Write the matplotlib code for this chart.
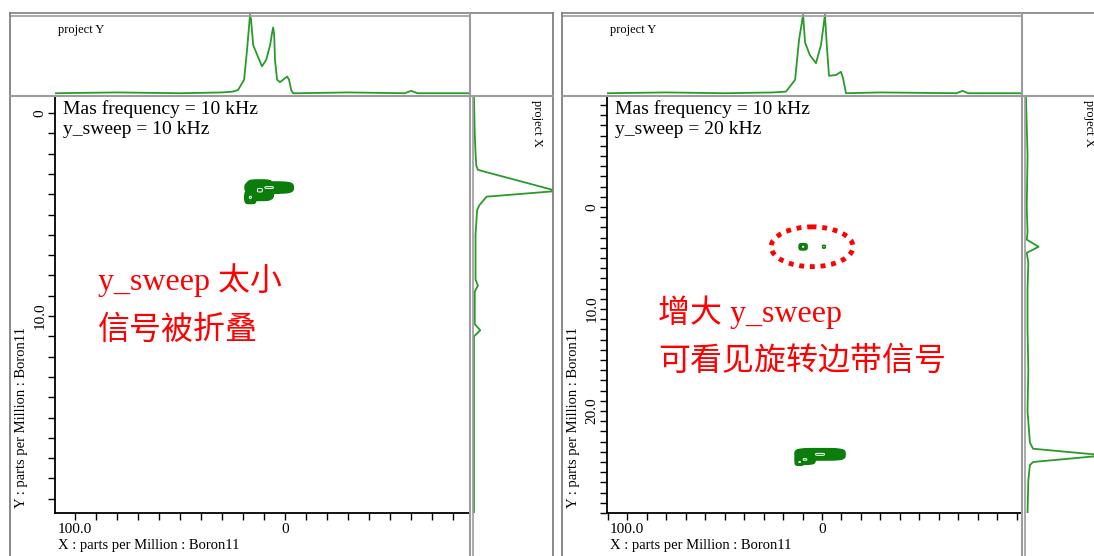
import numpy as np
import matplotlib.pyplot as plt
from matplotlib.patches import Ellipse
from matplotlib.lines import Line2D
from matplotlib.ticker import FixedLocator, MultipleLocator, FuncFormatter

plt.rcParams['font.family'] = ['Liberation Serif', 'Noto Sans CJK SC']

W, H = 1094, 556

# ---- left panel: MAS 10 kHz, y_sweep 10 kHz (folded) ----
projY_left_ppm = [109.5, 80, 50, 30, 25, 22.4, 19.5, 18.1, 17.1, 16.7, 16.2, 15.2, 14.3, 12.9, 11.0,
                  9.0, 7.1, 6.2, 5.7, 5.2, 4.8, 3.8, 2.4, 0.5, -1.0, -1.9, -2.9, -3.8, -6, -30,
                  -57, -60, -63, -88]
projY_left_val = [0.01, 0.02, 0.01, 0.02, 0.03, 0.05, 0.18, 0.56, 0.87, 1.0, 0.94, 0.62, 0.56, 0.47, 0.35,
                  0.43, 0.62, 0.77, 0.84, 0.75, 0.43, 0.18, 0.15, 0.19, 0.22, 0.18, 0.05, 0.01, 0.01, 0.02,
                  0.01, 0.04, 0.01, 0.01]
projX_left_ppm = [-0.8, 1.0, 2.0, 2.6, 2.8, 3.84, 4.12, 4.53, 4.78, 6.0, 8.2, 8.5, 8.8, 10.4, 10.7, 11.0,
                  14.0, 19.7]
projX_left_val = [0.0, 0.01, 0.02, 0.03, 0.05, 1.05, 0.16, 0.07, 0.04, 0.02, 0.02, 0.05, 0.01, 0.01, 0.08,
                  0.0, 0.0, 0.0]
peaks_left_x = [7.6, 12.0, 16.5]
peaks_left_y = [3.67, 3.8, 4.15]
peaks_left_hx = [11.4, 6.5, 2.6]
peaks_left_hy = [0.27, 0.5, 0.3]

# ---- right panel: MAS 10 kHz, y_sweep 20 kHz ----
projY_right_ppm = [110.3, 80, 50, 25, 18.5, 13.8, 11.8, 9.7, 8.7, 6.2, 3.1, 0.5, -1.5, -2.6, -3.6, -7.2,
                   -9.7, -10.8, -12.3, -30, -69, -72, -75, -102.6]
projY_right_val = [0.01, 0.02, 0.01, 0.02, 0.03, 0.18, 0.68, 1.0, 0.65, 0.49, 0.39, 0.62, 1.0, 0.56, 0.23, 0.24,
                   0.28, 0.2, 0.01, 0.02, 0.01, 0.04, 0.01, 0.01]
projX_right_ppm = [-10.8, -5, 0, 2.5, 3.2, 3.9, 4.5, 5.5, 8, 12, 16, 20, 23.1, 23.7, 24.35, 25.0, 25.3,
                   26.8, 30.0]
projX_right_val = [0.0, 0.02, 0.01, 0.02, 0.01, 0.16, 0.01, 0.03, 0.02, 0.02, 0.03, 0.02, 0.05, 0.09, 1.0,
                   0.09, 0.05, 0.03, 0.02]
peaks_right_x = [1.0, 8.7, 11.5, 9.7, -1.0]
peaks_right_y = [24.25, 24.75, 25.0, 3.9, 3.9]
peaks_right_hx = [12.8, 5.1, 2.2, 2.0, 0.6]
peaks_right_hy = [0.55, 0.45, 0.3, 0.3, 0.12]

panels = [
    dict(off=0, xlim=(109.5, -88), ylim=(19.7, -0.79), sweep='10 kHz',
         py=(projY_left_ppm, projY_left_val), px=(projX_left_ppm, projX_left_val),
         peaks=(peaks_left_x, peaks_left_y, peaks_left_hx, peaks_left_hy),
         ygrid=(2.0, 6.0),
         notes=[('y_sweep 太小', 280), ('信号被折叠', 331)]),
    dict(off=552, xlim=(110.3, -102.6), ylim=(30.0, -10.78), sweep='20 kHz',
         py=(projY_right_ppm, projY_right_val), px=(projX_right_ppm, projX_right_val),
         peaks=(peaks_right_x, peaks_right_y, peaks_right_hx, peaks_right_hy),
         ygrid=(1.0, 28.0),
         notes=[('增大 y_sweep', 312), ('可看见旋转边带信号', 362)]),
]

GREEN = '#0b7d0b'
LGREEN = '#2a9a2a'
GRAY = '#9c9c9c'


def rect(x0, y0, x1, y1):
    return [x0 / W, 1 - y1 / H, (x1 - x0) / W, (y1 - y0) / H]


def hline(fig, x0, x1, y, c=GRAY, lw=1.5):
    fig.add_artist(Line2D([x0 / W, x1 / W], [1 - y / H, 1 - y / H], color=c, lw=lw))


def vline(fig, x, y0, y1, c=GRAY, lw=1.5):
    fig.add_artist(Line2D([x / W, x / W], [1 - y0 / H, 1 - y1 / H], color=c, lw=lw))


def fmt(v, p):
    return '0' if abs(v) < 1e-9 else '%.1f' % v


fig = plt.figure(figsize=(W / 100, H / 100), dpi=100)

for p in panels:
    o = p['off']
    ax = fig.add_axes(rect(55 + o, 97, 470 + o, 513))
    axt = fig.add_axes(rect(55 + o, 14, 470 + o, 96), sharex=ax)
    axr = fig.add_axes(rect(470 + o, 97, 553 + o, 513), sharey=ax)

    # 2D contour plot
    xs = np.linspace(-35, 40, 750)
    ys = np.linspace(p['ygrid'][0], p['ygrid'][1], int((p['ygrid'][1] - p['ygrid'][0]) / 0.02))
    X, Y = np.meshgrid(xs, ys)
    Z = np.zeros_like(X)
    for cx, cy, hx, hy in zip(*p['peaks']):
        Z = np.maximum(Z, np.exp(-3 * (((X - cx) / hx) ** 4 + ((Y - cy) / hy) ** 4)))
    ax.contourf(X, Y, Z, levels=[0.05, 2], colors=[GREEN])
    ax.contour(X, Y, Z, levels=[0.05, 0.2], colors=[GREEN], linewidths=1.2)
    ax.contour(X, Y, Z, levels=[0.997], colors='white', linewidths=0.7)

    ax.set_xlim(*p['xlim'])
    ax.set_ylim(*p['ylim'])
    ax.xaxis.set_major_locator(FixedLocator([100, 0]))
    ax.xaxis.set_minor_locator(MultipleLocator(10))
    ax.yaxis.set_major_locator(FixedLocator([0, 10, 20]))
    ax.yaxis.set_minor_locator(MultipleLocator(1))
    ax.xaxis.set_major_formatter(FuncFormatter(fmt))
    ax.yaxis.set_major_formatter(FuncFormatter(fmt))
    ax.tick_params(which='both', direction='out', length=5, width=1, labelsize=11, pad=2)
    ax.tick_params(axis='y', labelrotation=90, pad=1)
    for lab in ax.get_yticklabels():
        lab.set_va('center')
    ax.spines['top'].set_visible(False)
    ax.spines['right'].set_visible(False)
    ax.spines['left'].set_linewidth(1.3)
    ax.spines['bottom'].set_linewidth(1.3)

    fig.text((63 + o) / W, 1 - 109 / H, 'Mas frequency = 10 kHz', fontsize=14, va='center', ha='left')
    fig.text((63 + o) / W, 1 - 129 / H, 'y_sweep = ' + p['sweep'], fontsize=14, va='center', ha='left')

    # projections
    axt.plot(p['py'][0], p['py'][1], color=LGREEN, lw=1.3)
    axt.set_ylim(-0.025, 1.01)
    axt.axis('off')
    axr.plot(p['px'][1], p['px'][0], color=LGREEN, lw=1.3)
    axr.set_xlim(-0.05, 1.0)
    axr.axis('off')

    # panel frame lines
    hline(fig, 10 + o, 553 + o, 13, c='#808080', lw=1.2)
    hline(fig, 10 + o, 470 + o, 15.5, c=GRAY, lw=1.2)
    vline(fig, 10 + o, 13, 556, c='#808080', lw=1.3)
    vline(fig, 553 + o, 13, 556, c='#808080', lw=1.3)
    hline(fig, 10 + o, 553 + o, 96, c=GRAY, lw=1.5)
    vline(fig, 470 + o, 14, 556, c=GRAY, lw=1.5)
    vline(fig, 473 + o, 97, 556, c=GRAY, lw=1.2)

    fig.text((58 + o) / W, 1 - 30 / H, 'project Y', fontsize=9, va='center', ha='left')
    fig.text((537 + o) / W, 1 - 100 / H, 'project X', fontsize=9, va='top', ha='center', rotation=270)
    fig.text((22 + o) / W, 1 - 508 / H, 'Y : parts per Million : Boron11', fontsize=10.5,
             rotation=90, va='bottom', ha='center')
    fig.text((58 + o) / W, 1 - 546 / H, 'X : parts per Million : Boron11', fontsize=10.5,
             va='center', ha='left')

    for txt, yc in p['notes']:
        fig.text((98 + o + (8 if o else 0)) / W, 1 - yc / H, txt, fontsize=23, color='red',
                 va='center', ha='left', fontweight='light')

# red dotted ellipse around the sideband (right panel)
ax_right = fig.axes[3]
ax_right.add_patch(Ellipse((5.1, 3.9), 42, 3.9, fill=False, edgecolor='red', lw=3.5,
                           linestyle=(0, (1, 1.2))))

fig.savefig('out.png', dpi=100)
